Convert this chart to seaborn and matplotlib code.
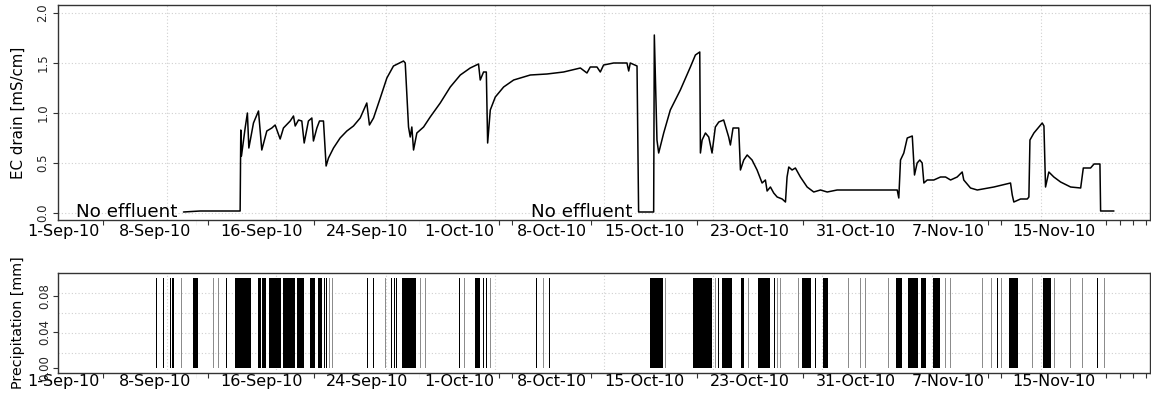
import numpy as np
import matplotlib
matplotlib.use("Agg")
import matplotlib.pyplot as plt
import matplotlib.transforms as mtransforms
from matplotlib.ticker import FixedLocator
import seaborn as sns

# ---------------- data (x = days since 1-Sep-2010) ----------------
ec_day = [9.12, 10.38, 11.64, 12.90, 13.41, 13.46, 13.51, 13.79, 13.96, 14.07,
          14.42, 14.80, 15.05, 15.43, 15.81, 16.06, 16.44, 16.69, 17.20, 17.45,
          17.58, 17.83, 18.08, 18.26, 18.58, 18.84, 18.96, 19.22, 19.42, 19.72,
          19.92, 20.10, 20.48, 20.98, 21.49, 21.99, 22.50, 23.00, 23.20, 23.51,
          24.02, 24.52, 25.02, 25.78, 25.91, 26.16, 26.29, 26.41, 26.54, 26.79,
          27.30, 27.80, 28.56, 29.32, 30.08, 30.83, 31.46, 31.59, 31.84, 32.05,
          32.15, 32.35, 32.73, 33.36, 34.12, 35.38, 36.64, 37.90, 39.17, 39.67,
          39.92, 40.43, 40.68, 40.93, 41.69, 42.70, 42.83, 42.95, 43.46, 43.58,
          44.72, 44.77, 44.97, 45.10, 45.48, 45.98, 46.74, 47.50, 47.88, 48.21,
          48.26, 48.39, 48.64, 48.89, 49.14, 49.39, 49.65, 50.02, 50.40, 50.53,
          50.73, 51.16, 51.29, 51.54, 51.80, 52.17, 52.55, 52.93, 53.18, 53.31,
          53.56, 53.81, 54.07, 54.45, 54.70, 54.82, 54.95, 55.20, 55.45, 55.83,
          56.34, 56.84, 57.35, 57.86, 58.61, 60.38, 63.16, 63.28, 63.41, 63.66,
          63.92, 64.30, 64.47, 64.67, 64.87, 65.05, 65.18, 65.43, 65.93, 66.44,
          66.82, 67.20, 67.70, 68.08, 68.20, 68.71, 69.22, 70.48, 71.74, 71.87,
          71.99, 72.50, 73.01, 73.13, 73.21, 73.51, 74.14, 74.27, 74.39, 74.64,
          75.02, 75.53, 76.29, 77.05, 77.25, 77.80, 78.06, 78.51, 78.56, 79.57]
ec_val = [0.01, 0.02, 0.02, 0.02, 0.02, 0.83, 0.57, 0.85, 1.00, 0.65,
          0.90, 1.02, 0.63, 0.82, 0.85, 0.88, 0.74, 0.85, 0.92, 0.97,
          0.87, 0.93, 0.92, 0.70, 0.92, 0.95, 0.72, 0.85, 0.92, 0.92,
          0.47, 0.55, 0.65, 0.75, 0.82, 0.87, 0.95, 1.10, 0.88, 0.95,
          1.15, 1.35, 1.47, 1.52, 1.50, 0.86, 0.76, 0.86, 0.63, 0.80,
          0.86, 0.96, 1.10, 1.26, 1.38, 1.45, 1.49, 1.33, 1.41, 1.41,
          0.70, 1.03, 1.16, 1.26, 1.33, 1.38, 1.39, 1.41, 1.45, 1.40,
          1.46, 1.46, 1.41, 1.48, 1.50, 1.50, 1.42, 1.50, 1.47, 0.01,
          0.01, 1.78, 0.73, 0.60, 0.80, 1.03, 1.23, 1.46, 1.58, 1.61,
          0.60, 0.73, 0.80, 0.76, 0.60, 0.86, 0.91, 0.93, 0.76, 0.68,
          0.85, 0.85, 0.43, 0.53, 0.58, 0.53, 0.43, 0.30, 0.33, 0.22,
          0.26, 0.20, 0.16, 0.14, 0.11, 0.36, 0.46, 0.43, 0.45, 0.36,
          0.26, 0.21, 0.23, 0.21, 0.23, 0.23, 0.23, 0.15, 0.53, 0.60,
          0.75, 0.77, 0.38, 0.50, 0.53, 0.50, 0.30, 0.33, 0.33, 0.36,
          0.36, 0.33, 0.36, 0.41, 0.33, 0.25, 0.23, 0.26, 0.30, 0.18,
          0.11, 0.14, 0.14, 0.16, 0.73, 0.80, 0.90, 0.87, 0.26, 0.41,
          0.36, 0.31, 0.26, 0.25, 0.45, 0.45, 0.49, 0.49, 0.02, 0.02]

rain_day = [7.10, 7.58, 8.11, 8.33, 8.98, 10.04, 11.40, 11.74, 12.35, 13.62,
            14.85, 15.21, 16.04, 17.12, 17.98, 18.90, 19.47, 19.81, 19.96, 20.15,
            20.38, 23.08, 23.51, 24.39, 24.85, 25.08, 25.27, 26.20, 27.05, 27.42,
            30.00, 30.38, 31.40, 31.82, 32.05, 32.35, 35.83, 36.36, 36.82, 44.96,
            45.61, 48.45, 49.39, 49.62, 50.27, 51.44, 51.89, 53.11, 53.86, 54.09,
            54.32, 55.68, 56.29, 56.97, 57.73, 59.47, 60.38, 60.76, 62.50, 63.26,
            64.39, 65.15, 66.17, 66.82, 67.20, 69.62, 70.30, 70.76, 71.06, 71.93,
            73.41, 74.47, 75.08, 76.29, 77.20, 78.33, 78.86]
rain_dur = [0.09, 0.09, 0.09, 0.09, 0.07, 0.38, 0.07, 0.07, 0.09, 1.17,
            0.23, 0.27, 0.87, 0.91, 0.55, 0.38, 0.30, 0.09, 0.09, 0.07,
            0.07, 0.09, 0.09, 0.07, 0.09, 0.09, 0.09, 1.08, 0.07, 0.07,
            0.09, 0.07, 0.38, 0.09, 0.09, 0.07, 0.09, 0.07, 0.09, 0.98,
            0.07, 1.44, 0.07, 0.09, 0.69, 0.25, 0.07, 0.91, 0.09, 0.07,
            0.07, 0.07, 0.61, 0.09, 0.45, 0.07, 0.07, 0.07, 0.07, 0.45,
            0.76, 0.45, 0.53, 0.07, 0.07, 0.07, 0.07, 0.09, 0.07, 0.68,
            0.07, 0.61, 0.07, 0.07, 0.07, 0.09, 0.07]
rain_tone = ['k', 'k', 'k', 'k', 'g', 'k', 'g', 'g', 'k', 'k',
             'k', 'k', 'k', 'k', 'k', 'k', 'k', 'k', 'k', 'g',
             'g', 'k', 'k', 'g', 'k', 'k', 'k', 'k', 'g', 'g',
             'k', 'g', 'k', 'k', 'k', 'g', 'k', 'g', 'k', 'k',
             'g', 'k', 'g', 'k', 'k', 'k', 'g', 'k', 'k', 'g',
             'g', 'g', 'k', 'k', 'k', 'g', 'g', 'g', 'g', 'k',
             'k', 'k', 'k', 'g', 'g', 'g', 'g', 'k', 'g', 'k',
             'g', 'k', 'g', 'g', 'g', 'k', 'g']
rain_mm = [0.1, 0.1, 0.1, 0.1, 0.1, 0.1, 0.1, 0.1, 0.1, 0.1,
           0.1, 0.1, 0.1, 0.1, 0.1, 0.1, 0.1, 0.1, 0.1, 0.1,
           0.1, 0.1, 0.1, 0.1, 0.1, 0.1, 0.1, 0.1, 0.1, 0.1,
           0.1, 0.1, 0.1, 0.1, 0.1, 0.1, 0.1, 0.1, 0.1, 0.1,
           0.1, 0.1, 0.1, 0.1, 0.1, 0.1, 0.1, 0.1, 0.1, 0.1,
           0.1, 0.1, 0.1, 0.1, 0.1, 0.1, 0.1, 0.1, 0.1, 0.1,
           0.1, 0.1, 0.1, 0.1, 0.1, 0.1, 0.1, 0.1, 0.1, 0.1,
           0.1, 0.1, 0.1, 0.1, 0.1, 0.1, 0.1]

date_tick_days = [0, 7, 15, 23, 30, 37, 44, 52, 60, 67, 75]
date_tick_labels = ["1-Sep-10", "8-Sep-10", "16-Sep-10", "24-Sep-10", "1-Oct-10",
                    "8-Oct-10", "15-Oct-10", "23-Oct-10", "31-Oct-10", "7-Nov-10",
                    "15-Nov-10"]
ec_ticks = [0.0, 0.5, 1.0, 1.5, 2.0]
ec_tick_labels = ["0.0", "0.5", "1.0", "1.5", "2.0"]
pr_ticks = [0.00, 0.04, 0.08]
pr_tick_labels = ["0.00", "0.04", "0.08"]
annot_text = "No effluent"
annot_x = [8.64, 43.10]

# ---------------- style ----------------
sns.set_theme(style="white")
plt.rcParams['font.family'] = ['DejaVu Sans']

W, H = 1151, 394
fig = plt.figure(figsize=(W / 100, H / 100), dpi=100)
L, R = 58, 1150
ax1 = fig.add_axes([L / W, 1 - 220 / H, (R - L) / W, (220 - 5) / H])
ax2 = fig.add_axes([L / W, 1 - 372.7 / H, (R - L) / W, (372.7 - 272.7) / H])

XLIM = (-0.38, 82.3)
GRID_KW = dict(color='#d0d0d0', lw=0.8, ls=(0, (1, 2)), zorder=0.5)
SPINE_C = '#333333'

# top panel
sns.lineplot(x=ec_day, y=ec_val, ax=ax1, color='black', linewidth=1.1,
             estimator=None, sort=False)
ax1.set_xlim(XLIM)
ax1.set_ylim(-0.07, 2.08)
for yv in ec_ticks:
    ax1.axhline(yv, **GRID_KW)
for ann_x in annot_x:
    ax1.text(ann_x, -0.043, annot_text, ha='right', va='baseline',
             fontsize=13.2, color='black')

# bottom panel
tone_color = {'k': 'black', 'g': '#8c8c8c'}
ax2.bar(rain_day, rain_mm, width=rain_dur,
        color=[tone_color[t] for t in rain_tone], linewidth=0, zorder=2)
ax2.set_xlim(XLIM)
ax2.set_ylim(-0.0052, 0.1059)
for yv in np.linspace(-0.0052, 0.1059, 6)[1:-1]:
    ax2.axhline(yv, **GRID_KW)

for ax, ticks, labels, ylab, ypad, xoff in [
        (ax1, ec_ticks, ec_tick_labels, "EC drain [mS/cm]", 2.7, -4),
        (ax2, pr_ticks, pr_tick_labels, "Precipitation [mm]", 1.2, -1.5)]:
    for xv in np.linspace(XLIM[0], XLIM[1], 11)[1:-1]:
        ax.axvline(xv, **GRID_KW)
    ax.grid(False)
    for s in ax.spines.values():
        s.set_color(SPINE_C)
        s.set_linewidth(1.0)
    # daily ticks; labels drawn as separate texts covering the ticks
    ax.xaxis.set_major_locator(FixedLocator(np.arange(0, 83)))
    ax.tick_params(axis='x', which='major', direction='out', length=3.8,
                   width=0.8, color=SPINE_C, labelbottom=False, bottom=True)
    trans = mtransforms.offset_copy(ax.get_xaxis_transform(), fig=fig,
                                    x=0, y=xoff, units='dots')
    for d, lab in zip(date_tick_days, date_tick_labels):
        ax.text(d, 0, lab, transform=trans, ha='center', va='top',
                fontsize=11.5, color='black', zorder=2.4, clip_on=False,
                bbox=dict(facecolor='white', edgecolor='none',
                          boxstyle='square,pad=0.25'))
    ax.set_yticks(ticks)
    ax.set_yticklabels(labels)
    ax.tick_params(axis='y', direction='out', length=3.6, width=0.8,
                   color=SPINE_C, left=True, labelsize=8.5, pad=ypad,
                   labelrotation=90)
    for t in ax.get_yticklabels():
        t.set_va('center')
    ax.yaxis.set_zorder(2.45)   # y tick labels stay visible over date boxes
    ax.set_xlabel("")
    ax.set_ylabel(ylab, fontsize=10.8, color='black')
    ax.yaxis.set_label_coords((25.5 - L) / (R - L), 0.5)

ax2.yaxis.label.set_fontsize(10.3)

fig.savefig("out.png", dpi=100, facecolor='white')
